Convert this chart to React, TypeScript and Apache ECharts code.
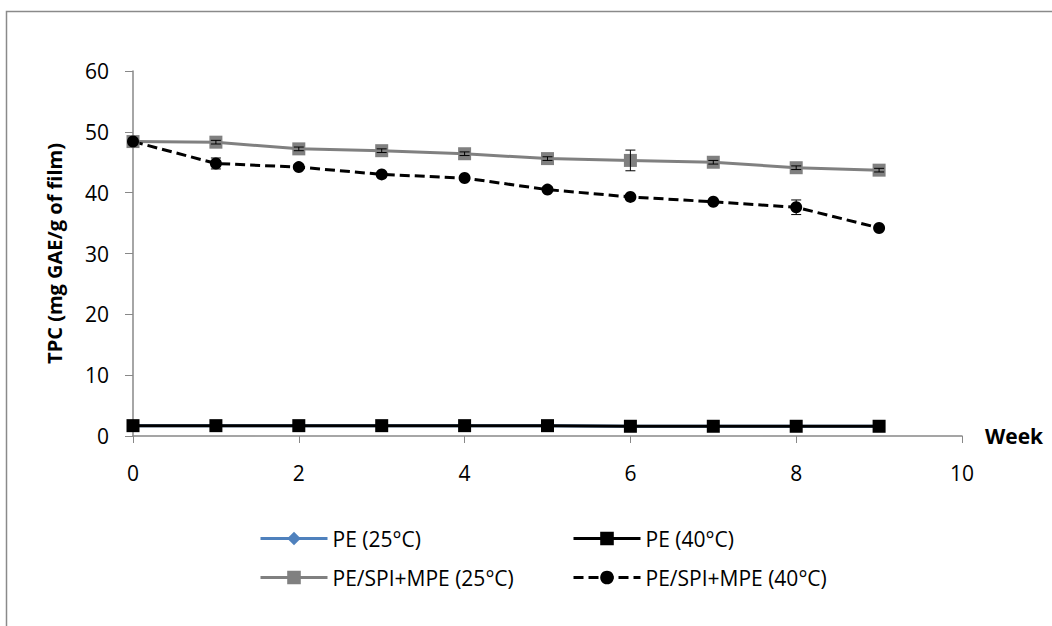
import React, { useEffect, useRef } from "react";
import * as echarts from "echarts";

const weeks = [0, 1, 2, 3, 4, 5, 6, 7, 8, 9];
const pe25 = [1.7, 1.7, 1.7, 1.7, 1.7, 1.7, 1.6, 1.6, 1.6, 1.6];
const pe40 = [1.7, 1.7, 1.7, 1.7, 1.7, 1.7, 1.6, 1.6, 1.6, 1.6];
const mpe25 = [48.4, 48.3, 47.2, 46.9, 46.4, 45.6, 45.3, 45.0, 44.1, 43.7];
const mpe40 = [48.4, 44.8, 44.2, 43.0, 42.4, 40.5, 39.3, 38.5, 37.6, 34.2];
const errMpe25 = [0.3, 0.3, 0.3, 0.3, 0.3, 0.3, 1.7, 0.3, 0.3, 0.3];
const errMpe40 = [0.3, 0.9, 0.4, 0.3, 0.3, 0.3, 0.3, 0.3, 1.2, 0.3];
const legendNames = ["PE (25°C)", "PE (40°C)", "PE/SPI+MPE (25°C)", "PE/SPI+MPE (40°C)"];
const xTicks = { min: 0, max: 10, interval: 2 };
const yTicks = { min: 0, max: 60, interval: 10 };

const FONT = "'Open Sans', 'Noto Sans', sans-serif";

function errorSeries(vals: number[], errs: number[]) {
  const data = weeks.map((w, i) => [w, vals[i] - errs[i], vals[i] + errs[i]]);
  return {
    type: "custom",
    silent: true,
    z: 10,
    data,
    renderItem: (params: any, api: any) => {
      const x = api.value(0);
      const lo = api.coord([x, api.value(1)]);
      const hi = api.coord([x, api.value(2)]);
      const w = 5;
      const style = { stroke: "#000", lineWidth: 1, fill: "none" };
      return {
        type: "group",
        children: [
          { type: "line", shape: { x1: lo[0], y1: lo[1], x2: hi[0], y2: hi[1] }, style },
          { type: "line", shape: { x1: lo[0] - w, y1: lo[1], x2: lo[0] + w, y2: lo[1] }, style },
          { type: "line", shape: { x1: hi[0] - w, y1: hi[1], x2: hi[0] + w, y2: hi[1] }, style },
        ],
      };
    },
  };
}

export default function App() {
  const ref = useRef<HTMLDivElement>(null);
  useEffect(() => {
    if (!ref.current) return;
    const chart = echarts.init(ref.current, undefined, { renderer: "svg" });
    const toPts = (arr: number[]) => weeks.map((w, i) => [w, arr[i]]);
    const legendPos = [
      { left: 259, top: 528 },
      { left: 572, top: 528 },
      { left: 259, top: 567 },
      { left: 572, top: 567 },
    ];
    chart.setOption({
      animation: false,
      backgroundColor: "#fff",
      graphic: [
        {
          type: "rect",
          shape: { x: 6.5, y: 11.5, width: 1200, height: 800 },
          style: { fill: "none", stroke: "#8a8a8a", lineWidth: 1.5 },
          silent: true,
        },
      ],
      grid: { left: 133, right: 90, top: 71, bottom: 190 },
      legend: legendNames.map((n, i) => ({
        data: [n],
        left: legendPos[i].left,
        top: legendPos[i].top,
        padding: 0,
        itemWidth: 67,
        itemHeight: 17,
        itemGap: 0,
        lineStyle: { width: 3 },
        textStyle: { fontFamily: FONT, fontSize: 21, color: "#000", padding: [0, 0, 0, 0] },
      })),
      xAxis: {
        type: "value",
        ...xTicks,
        name: "Week",
        nameLocation: "end",
        nameGap: 23,
        nameTextStyle: { fontFamily: FONT, fontSize: 21, fontWeight: "bold", color: "#000", verticalAlign: "middle", padding: [0, 0, 18, 0] },
        axisLine: { lineStyle: { color: "#888", width: 1.5 } },
        axisTick: { show: true, length: 7, lineStyle: { color: "#888" } },
        axisLabel: { fontFamily: FONT, fontSize: 21, color: "#000", margin: 26 },
        splitLine: { show: false },
      },
      yAxis: {
        type: "value",
        ...yTicks,
        name: "TPC (mg GAE/g of film)",
        nameLocation: "middle",
        nameGap: 69,
        nameTextStyle: { fontFamily: FONT, fontSize: 20, fontWeight: "bold", color: "#000" },
        axisLine: { show: true, lineStyle: { color: "#888", width: 1.5 } },
        axisTick: { show: true, length: 8, lineStyle: { color: "#888" } },
        axisLabel: { fontFamily: FONT, fontSize: 21, color: "#000", margin: 24 },
        splitLine: { show: false },
      },
      series: [
        {
          name: legendNames[0],
          type: "line",
          data: toPts(pe25),
          symbol: "diamond",
          symbolSize: 11,
          color: "#4F81BD",
          lineStyle: { width: 3, color: "#4F81BD" },
          itemStyle: { color: "#4F81BD" },
        },
        {
          name: legendNames[1],
          type: "line",
          data: toPts(pe40),
          symbol: "rect",
          symbolSize: 13,
          color: "#000",
          lineStyle: { width: 3, color: "#000" },
          itemStyle: { color: "#000" },
        },
        {
          name: legendNames[2],
          type: "line",
          data: toPts(mpe25),
          symbol: "rect",
          symbolSize: 13,
          color: "#808080",
          lineStyle: { width: 3, color: "#808080" },
          itemStyle: { color: "#808080" },
        },
        {
          name: legendNames[3],
          type: "line",
          data: toPts(mpe40),
          symbol: "circle",
          symbolSize: 12,
          color: "#000",
          lineStyle: { width: 3, color: "#000", type: [10, 5] },
          itemStyle: { color: "#000" },
        },
        errorSeries(mpe25, errMpe25),
        errorSeries(mpe40, errMpe40),
      ],
    });
    return () => chart.dispose();
  }, []);
  return <div ref={ref} style={{ position: "fixed", left: 0, top: 0, width: 1052, height: 626 }} />;
}
